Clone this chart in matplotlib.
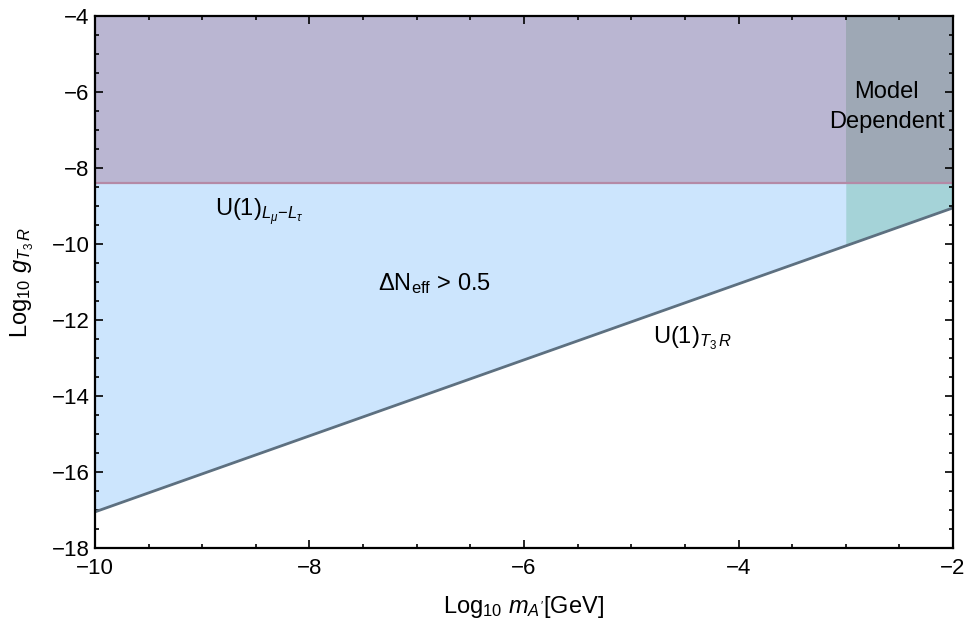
import numpy as np
import matplotlib.pyplot as plt
from matplotlib.ticker import MultipleLocator

plt.rcParams['font.family'] = ['Liberation Sans', 'DejaVu Sans']
plt.rcParams['mathtext.fontset'] = 'custom'
plt.rcParams['mathtext.rm'] = 'Liberation Sans'
plt.rcParams['mathtext.it'] = 'Liberation Sans:italic'
plt.rcParams['mathtext.bf'] = 'Liberation Sans:bold'

# data
log_mass = [-10, -2]            # log10 m_A' [GeV]
t3r_bound = [-17.05, -9.05]     # U(1)_T3R line, log10 g
lmu_ltau_bound = -8.4           # U(1)_Lmu-Ltau horizontal bound
model_dep_mass = [-3, -2]       # model dependent band
g_top = -4

fig = plt.figure(figsize=(9.65, 6.29), dpi=100)
ax = fig.add_axes([0.0984, 0.1288, 0.8892, 0.8458])

# Delta N_eff region (above the T3R line)
ax.fill_between(log_mass, t3r_bound, g_top, color='#cce5fd', lw=0)
# L_mu - L_tau region
ax.fill_between(log_mass, lmu_ltau_bound, g_top, color='#bab6d2', lw=0)

# model dependent band
md_line = np.interp(model_dep_mass, log_mass, t3r_bound)
ax.fill_between(model_dep_mass, lmu_ltau_bound, g_top, color='#9ea8b5', lw=0)
ax.fill_between(model_dep_mass, md_line, lmu_ltau_bound, color='#a5d3d8', lw=0)

ax.axhline(lmu_ltau_bound, color='#b48aa6', lw=1.6)
ax.plot(log_mass, t3r_bound, color='#5d7080', lw=2)

ax.text(-8.88, -9.18, r'U(1)$_{L_\mu\!-\!L_\tau}$', fontsize=17, va='center')
ax.text(-7.36, -11.03, r'ΔN$_{\mathrm{eff}}$ > 0.5', fontsize=17, va='center')
ax.text(-4.80, -12.47, r'U(1)$_{T_3\,R}$', fontsize=17, va='center')
ax.text(-2.62, -6.39, 'Model\nDependent', fontsize=17, ha='center', va='center',
        linespacing=1.45)

ax.set_xlim(-10, -2)
ax.set_ylim(-18, -4)
ax.xaxis.set_major_locator(MultipleLocator(2))
ax.xaxis.set_minor_locator(MultipleLocator(0.5))
ax.yaxis.set_major_locator(MultipleLocator(2))
ax.yaxis.set_minor_locator(MultipleLocator(0.5))
ax.tick_params(which='both', direction='in', top=True, right=True,
               labelsize=16, width=1.2)
ax.tick_params(which='major', length=6)
ax.tick_params(which='minor', length=3)
ax.tick_params(axis='x', pad=7)
ax.tick_params(axis='y', pad=4)
for s in ax.spines.values():
    s.set_linewidth(1.6)

ax.set_xlabel(r"Log$_{10}$ $m_{A^{\prime}}$[GeV]", fontsize=17, labelpad=11)
ax.set_ylabel(r'Log$_{10}$ $g_{T_3\,R}$', fontsize=17, labelpad=11)

plt.savefig('out.png', dpi=100)
